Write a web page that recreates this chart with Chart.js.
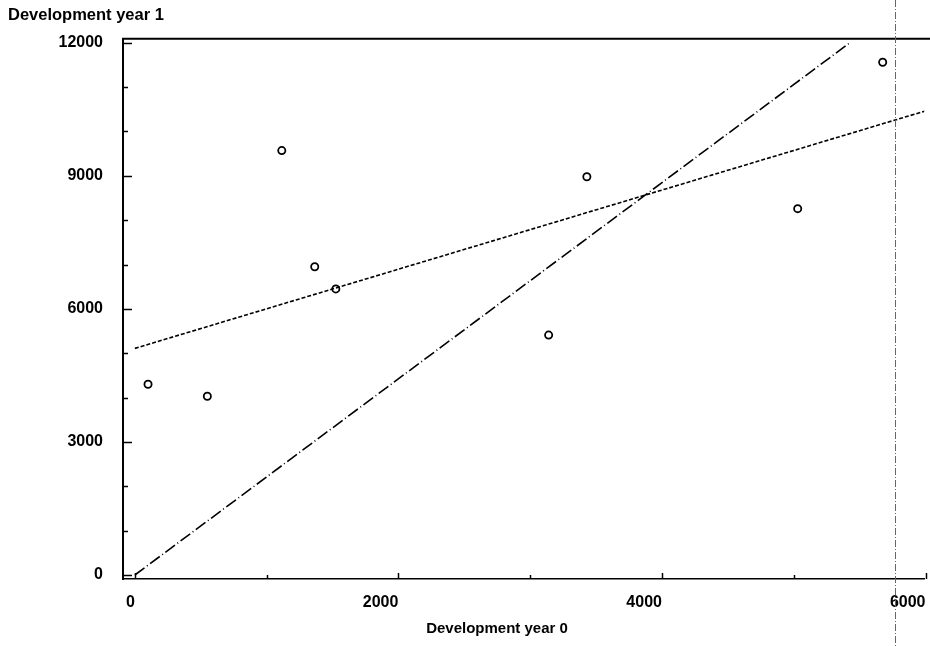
<!DOCTYPE html>
<html>
<head>
<meta charset="utf-8">
<script src="https://cdn.jsdelivr.net/npm/chart.js@4.4.0/dist/chart.umd.min.js"></script>
<style>
  html, body { margin: 0; padding: 0; background: #fff; }
  #wrap { width: 930px; height: 646px; }
</style>
</head>
<body>
<div id="wrap"><canvas id="c" width="930" height="646"></canvas></div>
<script>
// Observed points
const obsX = [100, 550, 1115, 1365, 1525, 3140, 3430, 5030, 5675];
const obsY = [4300, 4030, 9570, 6950, 6450, 5410, 8980, 8260, 11560];
// Fitted line with intercept (short dashes)
const fitAX = [0, 6040];
const fitAY = [5110, 10500];
// Fitted line through origin (dash-dot)
const fitBX = [0, 5430];
const fitBY = [0, 12010];
// Ticks
const xTickValues = [0, 1000, 2000, 3000, 4000, 5000, 6000];
const xTickLabels = [0, 2000, 4000, 6000];
const yTickValues = [0, 1000, 2000, 3000, 4000, 5000, 6000, 7000, 8000, 9000, 10000, 11000, 12000];
const yTickLabels = [0, 3000, 6000, 9000, 12000];
// Axis titles
const xTitle = 'Development year 0';
const yTitle = 'Development year 1';
// Scan artefact: faint vertical line
const artefactX = [5770];

const toPts = (xs, ys) => xs.map((x, i) => ({ x: x, y: ys[i] }));
const FONT = '"Liberation Sans", Arial, sans-serif';

const decorPlugin = {
  id: 'decor',
  afterDraw(chart) {
    const ctx = chart.ctx;
    const a = chart.chartArea;
    const xs = chart.scales.x, ys = chart.scales.y;
    ctx.save();
    ctx.strokeStyle = '#000';
    // top frame line
    ctx.lineWidth = 2;
    ctx.beginPath();
    ctx.moveTo(a.left - 1, a.top);
    ctx.lineTo(chart.width, a.top);
    ctx.stroke();
    // inward y ticks
    ctx.lineWidth = 1.5;
    yTickValues.forEach(v => {
      const py = Math.round(ys.getPixelForValue(v)) + 0.5;
      const len = yTickLabels.includes(v) ? 9 : 5;
      ctx.beginPath();
      ctx.moveTo(a.left, py);
      ctx.lineTo(a.left + len, py);
      ctx.stroke();
    });
    // inward x ticks
    xTickValues.forEach(v => {
      const px = Math.round(xs.getPixelForValue(v)) + 0.5;
      const len = xTickLabels.includes(v) ? 6 : 4;
      ctx.beginPath();
      ctx.moveTo(px, a.bottom);
      ctx.lineTo(px, a.bottom - len);
      ctx.stroke();
    });
    // x axis title
    ctx.fillStyle = '#000';
    ctx.font = 'bold 15px ' + FONT;
    ctx.textAlign = 'center';
    ctx.textBaseline = 'middle';
    ctx.fillText(xTitle, 497, 629);
    // faint vertical artefact line
    ctx.strokeStyle = '#666';
    ctx.lineWidth = 1;
    ctx.setLineDash([7, 2, 1, 2]);
    artefactX.forEach(v => {
      const px = Math.round(xs.getPixelForValue(v)) + 0.5;
      ctx.beginPath();
      ctx.moveTo(px, 0);
      ctx.lineTo(px, chart.height);
      ctx.stroke();
    });
    ctx.restore();
  }
};

const tickFont = { family: FONT, size: 16, weight: 'bold' };

new Chart(document.getElementById('c'), {
  type: 'scatter',
  data: {
    datasets: [
      {
        label: 'Fit with intercept',
        type: 'line',
        data: toPts(fitAX, fitAY),
        borderColor: '#000',
        borderWidth: 1.6,
        borderDash: [4, 2],
        pointRadius: 0,
        fill: false,
        showLine: true
      },
      {
        label: 'Fit through origin',
        type: 'line',
        data: toPts(fitBX, fitBY),
        borderColor: '#000',
        borderWidth: 1.6,
        borderDash: [12, 3, 1, 3],
        pointRadius: 0,
        fill: false,
        showLine: true
      },
      {
        label: 'Observed',
        data: toPts(obsX, obsY),
        pointStyle: 'circle',
        pointRadius: 3.6,
        borderWidth: 1.8,
        borderColor: '#000',
        backgroundColor: '#fff'
      }
    ]
  },
  options: {
    responsive: false,
    animation: false,
    layout: { padding: { left: 8, right: 0, top: 0, bottom: 0 } },
    plugins: {
      legend: { display: false },
      tooltip: { enabled: false },
      title: {
        display: true,
        text: yTitle,
        align: 'start',
        color: '#000',
        font: { family: FONT, size: 16.5, weight: 'bold', lineHeight: 1.2 },
        padding: { top: 6, bottom: 13 }
      }
    },
    scales: {
      x: {
        type: 'linear',
        min: -90,
        max: 5990,
        afterBuildTicks: s => { s.ticks = xTickValues.map(v => ({ value: v })); },
        afterFit: s => { s.height = 67; s.paddingLeft = 0; s.paddingRight = 0; },
        grid: { display: false, drawTicks: false },
        border: { display: true, color: '#000', width: 1.5 },
        ticks: {
          autoSkip: false,
          maxRotation: 0,
          align: 'end',
          padding: 14,
          color: '#000',
          font: tickFont,
          callback: v => xTickLabels.includes(v) ? String(v) : ''
        }
      },
      y: {
        type: 'linear',
        min: -90,
        max: 12090,
        afterBuildTicks: s => { s.ticks = yTickValues.map(v => ({ value: v })); },
        afterFit: s => { s.width = 115; s.paddingTop = 0; s.paddingBottom = 0; },
        grid: { display: false, drawTicks: false },
        border: { display: true, color: '#000', width: 2 },
        ticks: {
          autoSkip: false,
          padding: 20,
          color: '#000',
          font: tickFont,
          callback: v => yTickLabels.includes(v) ? String(v) : ''
        }
      }
    }
  },
  plugins: [decorPlugin]
});
</script>
</body>
</html>
